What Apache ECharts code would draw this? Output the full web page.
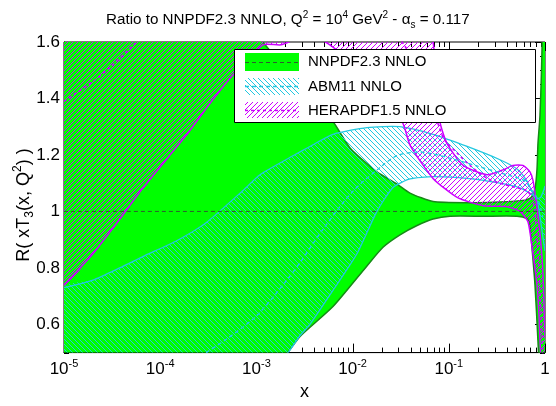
<!DOCTYPE html>
<html><head><meta charset="utf-8">
<script src="https://cdn.jsdelivr.net/npm/echarts@6/dist/echarts.min.js"></script>
<style>html,body{margin:0;padding:0;background:#fff}#c{width:556px;height:406px}</style>
</head><body><div id="c"></div>
<script>
const FONT = '"Liberation Sans", Arial, Helvetica, sans-serif';
const X_MIN = 1e-5, X_MAX = 1, Y_MIN = 0.5, Y_MAX = 1.6;

// axis tick values
const xMajorTicks = [1e-5, 1e-4, 1e-3, 1e-2, 1e-1, 1];
const yLabelValues = [0.6, 0.8, 1.0, 1.2, 1.4, 1.6];
const yMajorTicks = [0.6, 0.8, 1.0, 1.2, 1.4, 1.6];
const yMinorTicks = [0.5, 0.55, 0.65, 0.7, 0.75, 0.85, 0.9, 0.95, 1.05, 1.1, 1.15, 1.25, 1.3, 1.35, 1.45, 1.5, 1.55];
const xMinorMultipliers = [2, 3, 4, 5, 6, 7, 8, 9];

// NNPDF2.3 NNLO band (ratio to itself)
const nnpdfUpper = [[1e-5,2.8],[1e-4,2.2],[5e-4,1.8],[1.17e-3,1.6],[2.84e-3,1.45],[6.2e-3,1.32],[9.4e-3,1.225],[0.0179,1.14],[0.029,1.097],[0.0395,1.065],[0.0686,1.035],[0.166,1.031],[0.34,1.033],[0.62,1.04],[0.72,1.05],[0.787,1.08],[0.826,1.15],[0.845,1.24],[0.887,1.34],[0.92,1.5],[0.94,1.65],[1.0,2.5]];
const nnpdfLower = [[1e-5,-0.2],[1e-4,0.12],[1e-3,0.40],[2e-3,0.49],[2.84e-3,0.557],[6.25e-3,0.663],[0.0141,0.807],[0.0207,0.873],[0.0311,0.917],[0.0468,0.95],[0.0686,0.973],[0.103,0.983],[0.227,0.983],[0.512,0.983],[0.65,0.975],[0.69,0.96],[0.72,0.9],[0.787,0.74],[0.845,0.54],[0.9,0.35],[1.0,0.0]];
const nnpdfCentral = [[1e-5,1.0],[1.0,1.0]];

// ABM11 NNLO band
const abmUpper = [[1e-5,0.73],[2e-5,0.757],[3.8e-5,0.8],[6.6e-5,0.84],[1.5e-4,0.897],[3e-4,0.96],[7.2e-4,1.073],[1.09e-3,1.13],[2.4e-3,1.197],[3.6e-3,1.23],[6.25e-3,1.273],[0.0141,1.297],[0.031,1.3],[0.0686,1.273],[0.155,1.23],[0.34,1.183],[0.512,1.15],[0.65,1.107],[0.75,1.063],[0.83,1.045],[0.9,1.05],[0.97,1.075],[1.0,1.09]];
const abmLower = [[1e-5,0.0],[1e-4,0.1],[1e-3,0.37],[2.14e-3,0.5],[2.84e-3,0.56],[3.6e-3,0.6],[6.25e-3,0.72],[0.0111,0.85],[0.0179,1.0],[0.0263,1.085],[0.0395,1.115],[0.0686,1.123],[0.155,1.117],[0.34,1.1],[0.55,1.083],[0.75,1.057],[0.83,1.035],[0.89,0.98],[0.95,0.91],[1.0,0.86]];
const abmCentral = [[3e-4,0.5],[5e-4,0.55],[1e-3,0.63],[2e-3,0.75],[3e-3,0.83],[5e-3,0.94],[0.01,1.07],[0.02,1.16],[0.03,1.2],[0.05,1.21],[0.1,1.19],[0.2,1.16],[0.4,1.13],[0.6,1.11],[0.75,1.07],[0.85,1.04],[0.95,0.98]];

// HERAPDF1.5 NNLO band
const heraUpper = [[1e-5,2.5],[1e-3,2.5],[0.02,2.1],[0.05,1.75],[0.0686,1.6],[0.081,1.317],[0.096,1.24],[0.141,1.163],[0.25,1.13],[0.366,1.147],[0.465,1.163],[0.59,1.163],[0.698,1.14],[0.75,1.11],[0.8,1.05],[0.85,0.98],[0.9,0.9],[0.953,0.78],[1.0,0.55]];
const heraLower = [[1e-5,0.74],[2e-5,0.85],[3.8e-5,0.973],[6.6e-5,1.083],[1.9e-4,1.273],[3.3e-4,1.383],[5.7e-4,1.483],[1.17e-3,1.59],[1.8e-3,1.59],[2.8e-3,1.615],[4.2e-3,1.615],[5.5e-3,1.595],[7.4e-3,1.56],[0.0327,1.317],[0.0395,1.235],[0.0686,1.117],[0.122,1.05],[0.227,1.02],[0.4,1.017],[0.55,1.0],[0.665,0.963],[0.75,0.85],[0.826,0.74],[0.867,0.63],[0.887,0.54],[0.93,0.4],[1.0,0.2]];
const heraCentral = [[1e-5,1.39],[2e-5,1.46],[3e-5,1.51],[5.1e-5,1.585],[7e-5,1.63],[1e-4,1.7],[1e-3,1.9],[0.01,1.8],[0.05,1.5],[0.087,1.263],[0.122,1.207],[0.166,1.163],[0.25,1.117],[0.366,1.097],[0.512,1.083],[0.65,1.073],[0.75,1.04],[0.826,0.907],[0.9,0.67],[0.95,0.5],[1.0,0.3]];

const legendNames = ['NNPDF2.3 NNLO', 'ABM11 NNLO', 'HERAPDF1.5 NNLO'];

const GREEN = '#00ff00', GREEN_EDGE = '#178a17', GREEN_CENTRAL = '#2f5a2f';
const CYAN = '#22c8e0', MAGENTA = '#cc00ff';

function hatch(color, dir, size, width) {
  const c = document.createElement('canvas');
  c.width = size; c.height = size;
  const ctx = c.getContext('2d');
  ctx.fillStyle = color;
  for (let y = 0; y < size; y++) {
    for (let w = 0; w < width; w++) {
      const x = ((dir > 0 ? size - 1 - y : y) + w) % size;
      ctx.fillRect(x, y, 1, 1);
    }
  }
  return { image: c, repeat: 'repeat' };
}
const cyanHatch = hatch(CYAN, -1, 5, 1);
const magHatch = hatch(MAGENTA, 1, 5, 1);

function band(name, upper, lower, fill, edge, lw, z) {
  return {
    type: 'custom', name: name, z: z, clip: true, silent: true,
    data: [[1e-3, 1]],
    renderItem: function (params, api) {
      const up = upper.map(p => api.coord(p));
      const lo = lower.map(p => api.coord(p));
      const poly = up.concat(lo.slice().reverse());
      return { type: 'group', children: [
        { type: 'polygon', shape: { points: poly, smooth: 0.2 }, style: { fill: fill, stroke: null } },
        { type: 'polyline', shape: { points: up, smooth: 0.2 }, style: { stroke: edge, lineWidth: lw, fill: null } },
        { type: 'polyline', shape: { points: lo, smooth: 0.2 }, style: { stroke: edge, lineWidth: lw, fill: null } }
      ]};
    }
  };
}
function central(name, data, color, dash, width, z) {
  return { type: 'line', name: name, data: data, z: z, showSymbol: false, smooth: 0.3, silent: true,
    lineStyle: { color: color, width: width, type: dash } };
}
const ticksSeries = {
  type: 'custom', z: 1, silent: true, data: [[1e-3, 1]],
  renderItem: function (params, api) {
    const ch = [];
    const seg = (x1, y1, x2, y2) => ch.push({ type: 'line', shape: { x1: x1, y1: y1, x2: x2, y2: y2 }, style: { stroke: '#000', lineWidth: 1 } });
    const xt = (v, len) => { const b = api.coord([v, Y_MIN]), t = api.coord([v, Y_MAX]); const x = Math.round(b[0]) + 0.5; seg(x, b[1], x, b[1] - len); seg(x, t[1], x, t[1] + len); };
    const yt = (v, len) => { const l = api.coord([X_MIN, v]), r = api.coord([X_MAX, v]); const y = Math.round(l[1]) + 0.5; seg(l[0], y, l[0] + len, y); seg(r[0], y, r[0] - len, y); };
    xMajorTicks.forEach(v => xt(v, 9));
    xMajorTicks.slice(0, -1).forEach(d => xMinorMultipliers.forEach(m => xt(d * m, 5)));
    yMajorTicks.forEach(v => yt(v, 10));
    yMinorTicks.forEach(v => yt(v, 5));
    return { type: 'group', children: ch };
  }
};

const supRich = { fontSize: 10, fontFamily: FONT, color: '#000', verticalAlign: 'top', lineHeight: 12 };
const subRich = { fontSize: 10, fontFamily: FONT, color: '#000', verticalAlign: 'bottom', lineHeight: 6 };

const chart = echarts.init(document.getElementById('c'), null, { renderer: 'canvas' });
chart.setOption({
  animation: false,
  backgroundColor: '#fff',
  title: {
    text: '{n|Ratio to NNPDF2.3 NNLO, Q}{sup|2}{n| = 10}{sup|4}{n| GeV}{sup|2}{n| - α}{sub|s}{n| = 0.117}',
    left: 101, top: 5,
    textStyle: { fontFamily: FONT, fontWeight: 'normal', color: '#000', fontSize: 15,
      rich: { n: { fontSize: 15.2, fontFamily: FONT, color: '#000', lineHeight: 20 }, sup: supRich, sub: subRich } }
  },
  grid: { left: 64, right: 11, top: 42, bottom: 36, show: true, borderColor: '#000', borderWidth: 1, backgroundColor: 'transparent' },
  xAxis: {
    type: 'log', logBase: 10, min: X_MIN, max: X_MAX,
    name: 'x', nameLocation: 'middle', nameGap: 21,
    nameTextStyle: { fontFamily: FONT, fontSize: 18, color: '#000' },
    axisLine: { show: true, lineStyle: { color: '#000', width: 1 } },
    axisTick: { show: false }, splitLine: { show: false },
    axisLabel: {
      margin: 6, color: '#000', fontFamily: FONT, fontSize: 17,
      formatter: function (v) {
        const e = Math.round(Math.log10(v));
        return e === 0 ? '{b|1}' : '{b|10}{s|' + e + '}';
      },
      rich: { b: { fontSize: 17, fontFamily: FONT, color: '#000', lineHeight: 22 },
              s: { fontSize: 11, fontFamily: FONT, color: '#000', verticalAlign: 'top', lineHeight: 12 } }
    }
  },
  yAxis: {
    type: 'value', min: Y_MIN, max: Y_MAX,
    axisLine: { show: true, lineStyle: { color: '#000', width: 1 } },
    axisTick: { show: false }, splitLine: { show: false },
    axisLabel: { customValues: yLabelValues, margin: 4, color: '#000', fontFamily: FONT, fontSize: 17,
      formatter: v => String(Math.round(v * 10) / 10) }
  },
  series: [
    ticksSeries,
    band(legendNames[0], nnpdfUpper, nnpdfLower, GREEN, GREEN_EDGE, 1.5, 2),
    central(legendNames[0] + ' c', nnpdfCentral, GREEN_CENTRAL, [4, 3], 1, 6),
    band(legendNames[1], abmUpper, abmLower, cyanHatch, CYAN, 1.3, 3),
    central(legendNames[1] + ' c', abmCentral, CYAN, [4, 3], 1.3, 5),
    band(legendNames[2], heraUpper, heraLower, magHatch, MAGENTA, 1.5, 4),
    central(legendNames[2] + ' c', heraCentral, MAGENTA, [3, 3], 1.5, 5)
  ],
  graphic: [
    { type: 'text', x: 24, y: 205, rotation: Math.PI / 2, z: 10,
      style: { text: '{n|R( xT}{sub|3}{n|(x, Q}{sup|2}{n|) )}', align: 'center', verticalAlign: 'middle',
        rich: { n: { fontSize: 18, fontFamily: FONT, color: '#000', lineHeight: 24 },
                sub: { fontSize: 12, fontFamily: FONT, color: '#000', verticalAlign: 'bottom', lineHeight: 6 },
                sup: { fontSize: 12, fontFamily: FONT, color: '#000', verticalAlign: 'top', lineHeight: 14 } } } },
    { type: 'rect', z: 20, shape: { x: 234.5, y: 49.5, width: 301, height: 73 }, style: { fill: '#fff', stroke: '#000', lineWidth: 1 } },
    { type: 'rect', z: 21, shape: { x: 245, y: 53, width: 54, height: 18 }, style: { fill: GREEN } },
    { type: 'line', z: 22, shape: { x1: 245, y1: 62.5, x2: 299, y2: 62.5 }, style: { stroke: GREEN_CENTRAL, lineWidth: 1, lineDash: [4, 3] } },
    { type: 'rect', z: 21, shape: { x: 245, y: 78, width: 54, height: 17 }, style: { fill: cyanHatch } },
    { type: 'line', z: 22, shape: { x1: 245, y1: 86.5, x2: 299, y2: 86.5 }, style: { stroke: CYAN, lineWidth: 1.3, lineDash: [4, 3] } },
    { type: 'rect', z: 21, shape: { x: 245, y: 102, width: 54, height: 16 }, style: { fill: magHatch } },
    { type: 'line', z: 22, shape: { x1: 245, y1: 110.5, x2: 299, y2: 110.5 }, style: { stroke: MAGENTA, lineWidth: 1.3, lineDash: [3, 3] } },
    { type: 'text', z: 22, x: 308, y: 62, style: { text: legendNames[0], fontSize: 15, fontFamily: FONT, fill: '#000', verticalAlign: 'middle' } },
    { type: 'text', z: 22, x: 308, y: 87, style: { text: legendNames[1], fontSize: 15, fontFamily: FONT, fill: '#000', verticalAlign: 'middle' } },
    { type: 'text', z: 22, x: 308, y: 111, style: { text: legendNames[2], fontSize: 15, fontFamily: FONT, fill: '#000', verticalAlign: 'middle' } }
  ]
});
</script></body></html>
